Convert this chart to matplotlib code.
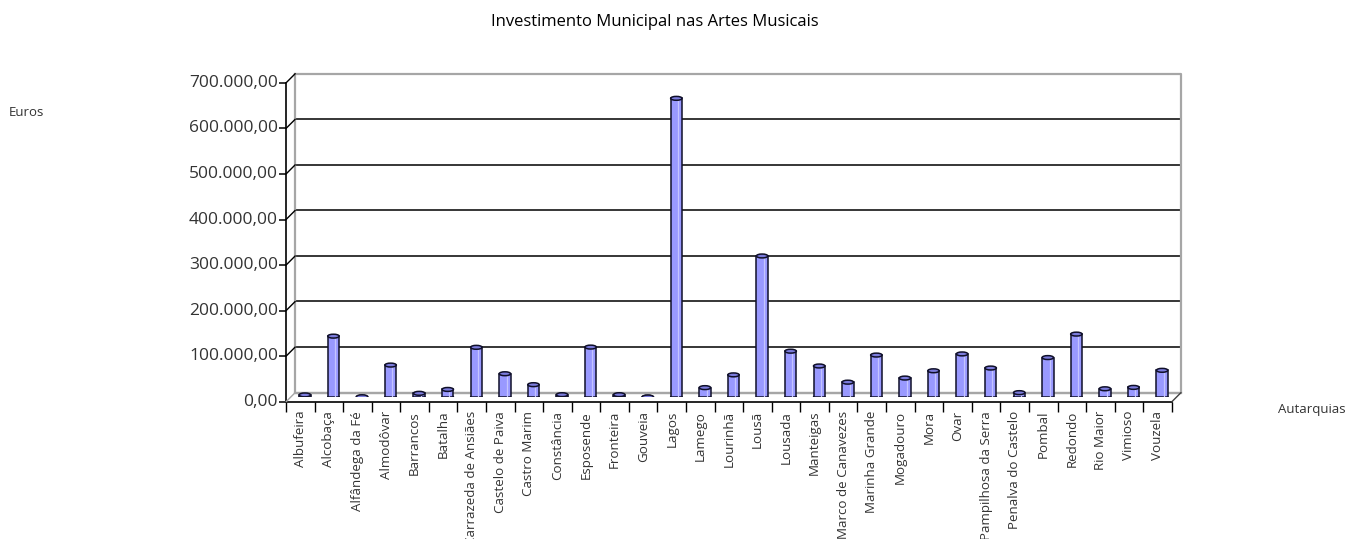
import matplotlib
matplotlib.use('Agg')
import matplotlib.pyplot as plt
from matplotlib.transforms import offset_copy
from matplotlib.patches import Ellipse, ConnectionPatch

categories = ['Albufeira', 'Alcobaça', 'Alfândega da Fé', 'Almodôvar', 'Barrancos',
              'Batalha', 'Carrazeda de Ansiães', 'Castelo de Paiva', 'Castro Marim',
              'Constância', 'Esposende', 'Fronteira', 'Gouveia', 'Lagos', 'Lamego',
              'Lourinhã', 'Lousã', 'Lousada', 'Manteigas', 'Marco de Canavezes',
              'Marinha Grande', 'Mogadouro', 'Mora', 'Ovar', 'Pampilhosa da Serra',
              'Penalva do Castelo', 'Pombal', 'Redondo', 'Rio Maior', 'Vimioso', 'Vouzela']
values = [5000, 134000, 1000, 70500, 8500,
          17000, 109500, 51500, 27500,
          5500, 110000, 5500, 500, 656000, 21000,
          49000, 310000, 101000, 68500, 33000,
          92500, 42000, 58000, 95000, 64000,
          10000, 87000, 138500, 18500, 21500, 59000]
yticks = [0, 100000, 200000, 300000, 400000, 500000, 600000, 700000]
ytick_labels = ['0,00', '100.000,00', '200.000,00', '300.000,00', '400.000,00',
                '500.000,00', '600.000,00', '700.000,00']
title = 'Investimento Municipal nas Artes Musicais'
ylabel = 'Euros'
xlabel = 'Autarquias'

plt.rcParams['font.family'] = ['Open Sans', 'DejaVu Sans']

W, H = 1347, 539
fig = plt.figure(figsize=(W / 100, H / 100), dpi=100)
# axes = mid-depth plane of the pseudo-3D chart
left, right = 290.6 / W, 1176.4 / W
bottom, top = (H - 397.2) / H, (H - 78.3) / H
ax = fig.add_axes([left, bottom, right - left, top - bottom])
n = len(categories)
ax.set_xlim(-0.5, n - 0.5)
ax.set_ylim(0, 700000)
ax.axis('off')

d = 4.6
tB = offset_copy(ax.transData, fig=fig, x=d, y=d, units='dots')
tF = offset_copy(ax.transData, fig=fig, x=-d, y=-d, units='dots')
grey = '#a6a6a6'
x0, x1 = -0.5, n - 0.5

# back wall
for v in yticks[1:-1]:
    ax.plot([x0, x1], [v, v], color='black', lw=1.1, transform=tB, zorder=1, clip_on=False)
ax.plot([x0, x1], [0, 0], color=grey, lw=1.6, transform=tB, zorder=1, clip_on=False)
ax.plot([x0, x1, x1, x0, x0], [700000, 700000, 0, 0, 700000], color=grey, lw=1.6,
        transform=tB, zorder=1, clip_on=False)

# connectors front -> back
for v in yticks:
    cp = ConnectionPatch(xyA=(x0, v), coordsA=tF, xyB=(x0, v), coordsB=tB,
                         color='black' if v != 0 else grey, lw=1.0, zorder=1)
    fig.add_artist(cp)
cp = ConnectionPatch(xyA=(x1, 0), coordsA=tF, xyB=(x1, 0), coordsB=tB,
                     color='#404040', lw=1.0, zorder=1)
fig.add_artist(cp)

# front axes
ax.plot([x0, x0], [0, 700000], color='black', lw=1.2, transform=tF, clip_on=False, zorder=2)
ax.plot([x0, x1], [0, 0], color='black', lw=1.2, transform=tF, clip_on=False, zorder=5)
ax.plot([x0] * len(yticks), yticks, marker=0, markersize=5, mew=1.1, ls='none',
        color='black', transform=tF, clip_on=False)
bounds = [i - 0.5 for i in range(n + 1)]
ax.plot(bounds, [0] * len(bounds), marker=3, markersize=7, mew=1.0, ls='none',
        color='black', transform=tF, clip_on=False, zorder=5)

tl = offset_copy(tF, fig=fig, x=-8, y=0, units='dots')
for v, lab in zip(yticks, ytick_labels):
    ax.text(x0, v, lab, transform=tl, ha='right', va='center', fontsize=12.5,
            color='#333333')
tc = offset_copy(tF, fig=fig, x=0, y=-9, units='dots')
for i, c in enumerate(categories):
    ax.text(i, 0, c, transform=tc, rotation=90, ha='center', va='top', fontsize=9.6,
            color='#333333')

# cylinders
xs = list(range(n))
bw = 0.4
ax.bar(xs, values, width=bw, color='#9999ff', edgecolor='#10102a', lw=1.1, zorder=3)
ax.vlines([x + 0.06 for x in xs], 0, values, color='#c4c4ff', lw=0.9, zorder=3.5)
eh = 8500
for x, v in zip(xs, values):
    ax.add_patch(Ellipse((x, 0), bw, eh, facecolor='#9999ff', edgecolor='#10102a',
                         lw=1.1, zorder=2.9))
    ax.add_patch(Ellipse((x, v), bw, eh, facecolor='#7c7cdd', edgecolor='#10102a',
                         lw=1.1, zorder=4))

fig.text(655 / W, 1 - 21.5 / H, title, ha='center', va='center', fontsize=12,
         color='black')
fig.text(26.5 / W, 1 - 113 / H, ylabel, ha='center', va='center', fontsize=9.5,
         color='#333333')
fig.text(1312 / W, 1 - 409 / H, xlabel, ha='center', va='center', fontsize=9.5,
         color='#333333')

fig.savefig('out.png', dpi=100)
